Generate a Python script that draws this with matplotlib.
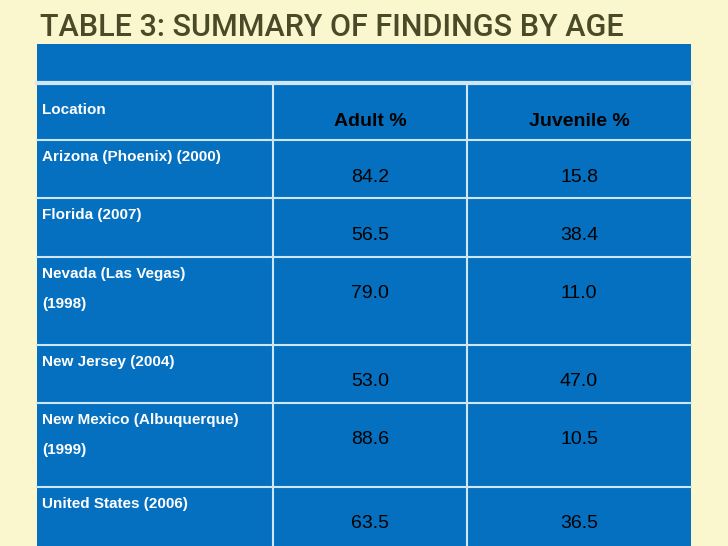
import matplotlib
matplotlib.use("Agg")
import matplotlib.pyplot as plt
from matplotlib.patches import Rectangle

title = "TABLE 3: SUMMARY OF FINDINGS BY AGE"
headers = ["Location", "Adult %", "Juvenile %"]
locations = ["Arizona (Phoenix) (2000)", "Florida (2007)", "Nevada (Las Vegas)\n\n(1998)",
             "New Jersey (2004)", "New Mexico (Albuquerque)\n\n(1999)", "United States (2006)"]
adult = ["84.2", "56.5", "79.0", "53.0", "88.6", "63.5"]
juvenile = ["15.8", "38.4", "11.0", "47.0", "10.5", "36.5"]

fig = plt.figure(figsize=(7.28, 5.46), dpi=100)
fig.patch.set_facecolor("#faf7cf")
ax = fig.add_axes([0, 0, 1, 1])
ax.set_xlim(0, 728); ax.set_ylim(546, 0); ax.axis("off")
ax.set_facecolor("#faf7cf")

blue = "#0570c0"; line = "#cfe6f5"
cols = [37, 273, 467, 691]
ax.add_patch(Rectangle((37, 44), 654, 37, facecolor=blue, edgecolor="none"))
ax.plot([37, 691], [82.5, 82.5], color=line, lw=3)
rows = [84, 140, 198, 257, 345, 403, 487, 546]
ax.add_patch(Rectangle((37, 84), 654, 462, facecolor=blue, edgecolor="none"))
for y in rows[1:-1]:
    ax.plot([37, 691], [y, y], color=line, lw=1.5)
for x in cols[1:-1]:
    ax.plot([x, x], [84, 546], color=line, lw=1.5)

ax.text(40, 36, title, fontsize=22, color="#4a4a28", family="Roboto", fontweight="medium",
        va="baseline", ha="left", fontstretch="condensed")

ax.text(42, 110, headers[0], fontsize=11, color="white", fontweight="bold",
        family="Liberation Sans", va="center")
ax.text(370, 121, headers[1], fontsize=14, color="black", fontweight="bold",
        family="Liberation Sans", va="center", ha="center")
ax.text(579, 121, headers[2], fontsize=14, color="black", fontweight="bold",
        family="Liberation Sans", va="center", ha="center")

for i, (loc, a, j) in enumerate(zip(locations, adult, juvenile)):
    top = rows[i + 1]; bot = rows[i + 2]
    ax.text(42, top + 10, loc, fontsize=11, color="white", fontweight="bold",
            family="Liberation Sans", va="top", linespacing=1.1)
    yv = top + 37 if i not in (2, 4) else top + 37
    ax.text(370, yv, a, fontsize=14, color="black", family="Liberation Sans", va="center", ha="center")
    ax.text(579, yv, j, fontsize=14, color="black", family="Liberation Sans", va="center", ha="center")

fig.savefig("out.png", dpi=100, facecolor=fig.get_facecolor())
